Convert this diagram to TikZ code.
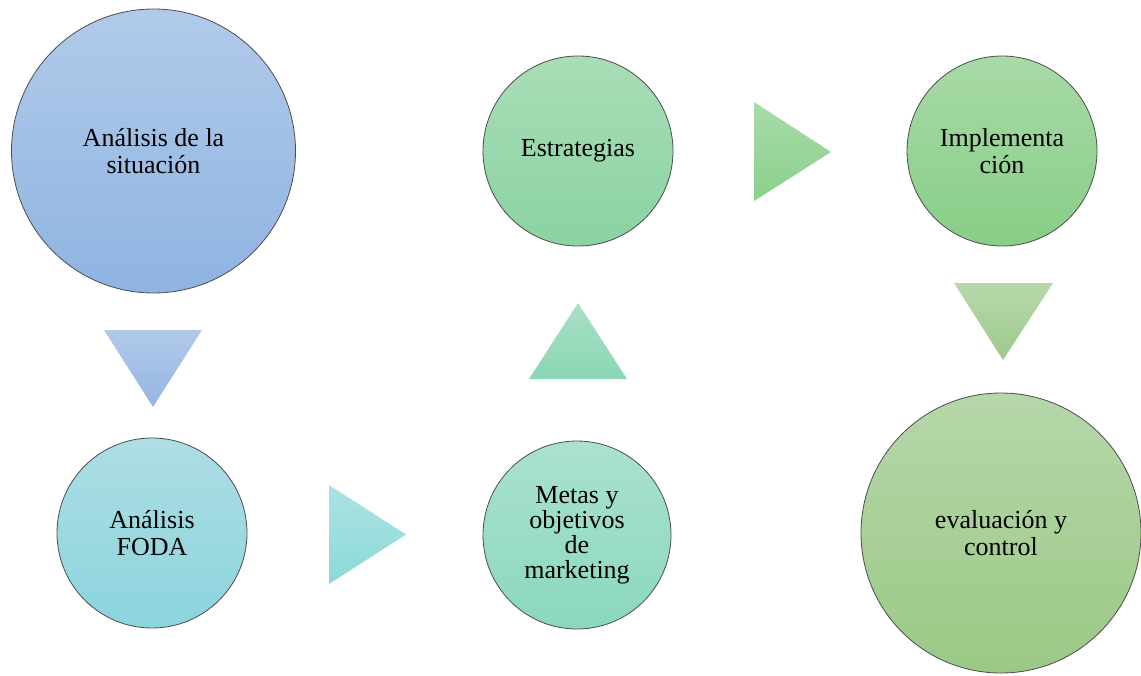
\documentclass[tikz,border=0pt]{standalone}
\usepackage{fontspec}
\setmainfont{Liberation Serif}
\definecolor{c1t}{HTML}{B1CAE9}\definecolor{c1b}{HTML}{8FB4E2}
\definecolor{c2t}{HTML}{ADDEE4}\definecolor{c2b}{HTML}{8BD4DE}
\definecolor{t1t}{HTML}{B2CAE9}\definecolor{t1b}{HTML}{94B6E2}
\definecolor{t2t}{HTML}{ABE3E2}\definecolor{t2b}{HTML}{8CD9D8}
\definecolor{c3t}{HTML}{AAE1D0}\definecolor{c3b}{HTML}{8BD8BE}
\definecolor{t3t}{HTML}{AADFC6}\definecolor{t3b}{HTML}{8AD6B5}
\definecolor{c4t}{HTML}{A9DDB6}\definecolor{c4b}{HTML}{8AD3A3}
\definecolor{t4t}{HTML}{A8DBA8}\definecolor{t4b}{HTML}{8AD08B}
\definecolor{c5t}{HTML}{A8DAA7}\definecolor{c5b}{HTML}{87CE86}
\definecolor{t5t}{HTML}{B6D7AA}\definecolor{t5b}{HTML}{9DCB8B}
\definecolor{c6t}{HTML}{B6D7AA}\definecolor{c6b}{HTML}{9BC985}
\tikzset{
  bubble/.style={circle, draw=black!70, line width=0.6pt, align=center, inner sep=0pt,
    font=\fontsize{19.5pt}{20.25pt}\selectfont},
  tight/.style={font=\fontsize{19.5pt}{18.75pt}\selectfont},
}
\begin{document}
\begin{tikzpicture}[x=0.75pt,y=-0.75pt]
\useasboundingbox (0,0) rectangle (1141,675);
% circles
\node[bubble, minimum size=213pt, top color=c1t, bottom color=c1b] (sit) at (153.5,151) {Análisis de la\\situación};
\node[bubble, minimum size=142.5pt, top color=c2t, bottom color=c2b] (foda) at (152,533) {Análisis\\FODA};
\node[bubble, tight, minimum size=141pt, top color=c3t, bottom color=c3b] (metas) at (577,535) {Metas y\\objetivos\\de\\marketing};
\node[bubble, minimum size=142.5pt, top color=c4t, bottom color=c4b] (estr) at (578,151) {Estrategias};
\node[bubble, minimum size=142.5pt, top color=c5t, bottom color=c5b] (impl) at (1002,151) {Implementa\\ción};
\node[bubble, minimum size=210pt, top color=c6t, bottom color=c6b] (eval) at (1001,533) {evaluación y\\control};
% arrow triangles
\shade[top color=t1t, bottom color=t1b] (104,330) -- (202,330) -- (153,407) -- cycle;
\shade[top color=t2t, bottom color=t2b] (329,485) -- (406,534.5) -- (329,584) -- cycle;
\shade[top color=t3t, bottom color=t3b] (529,379) -- (578,303) -- (627,379) -- cycle;
\shade[top color=t4t, bottom color=t4b] (754,102) -- (831,152) -- (754,201) -- cycle;
\shade[top color=t5t, bottom color=t5b] (954,283) -- (1053,283) -- (1003,360) -- cycle;
\end{tikzpicture}
\end{document}
